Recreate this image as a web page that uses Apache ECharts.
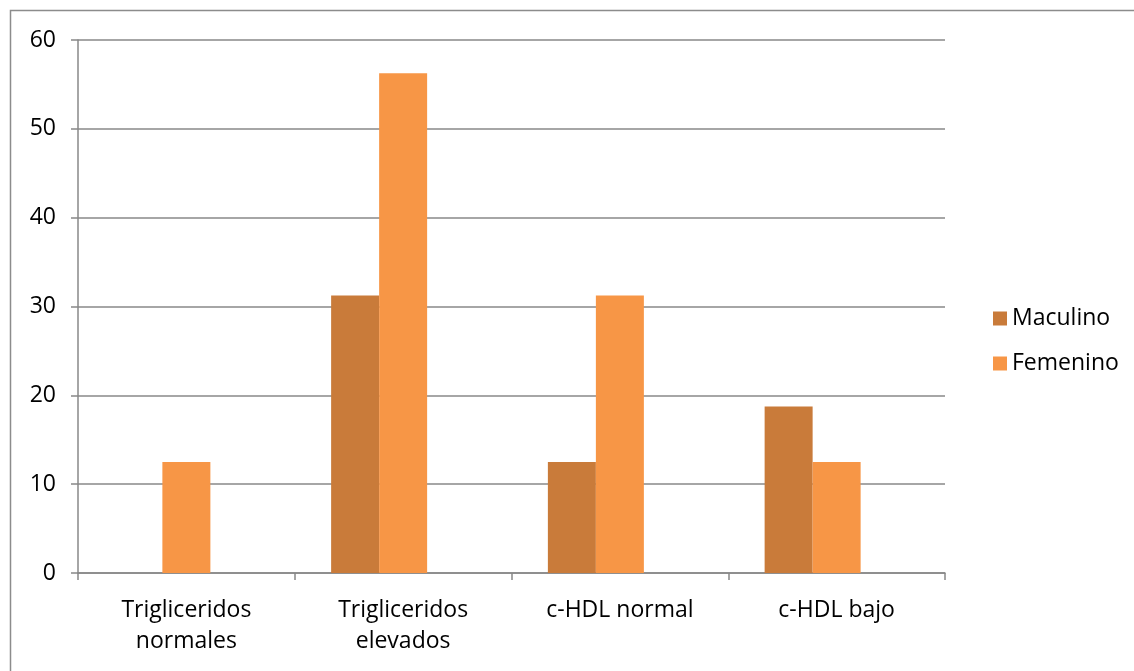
<!DOCTYPE html>
<html><head><meta charset="utf-8">
<script src="https://cdn.jsdelivr.net/npm/echarts@6/dist/echarts.min.js"></script>
<style>html,body{margin:0;padding:0;background:#fff}#c{width:1134px;height:671px}</style>
</head><body><div id="c"></div>
<script>
var categories = ['Trigliceridos\nnormales', 'Trigliceridos\nelevados', 'c-HDL normal', 'c-HDL bajo'];
var masculino = [0, 31.25, 12.5, 18.75];
var femenino = [12.5, 56.25, 31.25, 12.5];
var yTicks = [0, 10, 20, 30, 40, 50, 60];
var seriesNames = ['Maculino', 'Femenino'];

var font = '"Open Sans", sans-serif';
var fs = 23;
var chart = echarts.init(document.getElementById('c'));
chart.setOption({
  animation: false,
  textStyle: {fontFamily: font},
  graphic: [{type: 'rect', shape: {x: 10.5, y: 10.5, width: 1300, height: 800}, style: {fill: 'none', stroke: '#8c8c8c', lineWidth: 1.5}, silent: true}],
  grid: {left: 78, right: 189, top: 40, bottom: 98},
  legend: {
    orient: 'vertical', left: 988, top: 302, itemWidth: 14, itemHeight: 14, itemGap: 22, icon: 'rect',
    data: seriesNames,
    textStyle: {fontSize: fs, color: '#000', fontFamily: font, padding: [0, 0, 0, 0]}
  },
  xAxis: {
    type: 'category', data: categories,
    axisLine: {lineStyle: {color: '#888', width: 1.5}},
    axisTick: {show: true, length: 7, lineStyle: {color: '#888', width: 1.5}},
    axisLabel: {fontSize: fs, color: '#000', margin: 22, lineHeight: 31, fontFamily: font, interval: 0}
  },
  yAxis: {
    type: 'value', min: yTicks[0], max: yTicks[yTicks.length - 1], interval: 10,
    axisLine: {show: true, lineStyle: {color: '#888', width: 1.5}},
    axisTick: {show: true, length: 7, lineStyle: {color: '#888', width: 1.5}},
    splitLine: {lineStyle: {color: '#888', width: 1.5}},
    axisLabel: {fontSize: fs, color: '#000', margin: 22, fontFamily: font}
  },
  series: [
    {name: seriesNames[0], type: 'bar', data: masculino, barWidth: 48, barGap: '0%', itemStyle: {color: '#C97B3A'}},
    {name: seriesNames[1], type: 'bar', data: femenino, barWidth: 48, barGap: '0%', itemStyle: {color: '#F79646'}},
    {name: 'hidden', type: 'bar', data: [null, null, null, null], barWidth: 48, barGap: '0%'}
  ]
});
</script></body></html>
